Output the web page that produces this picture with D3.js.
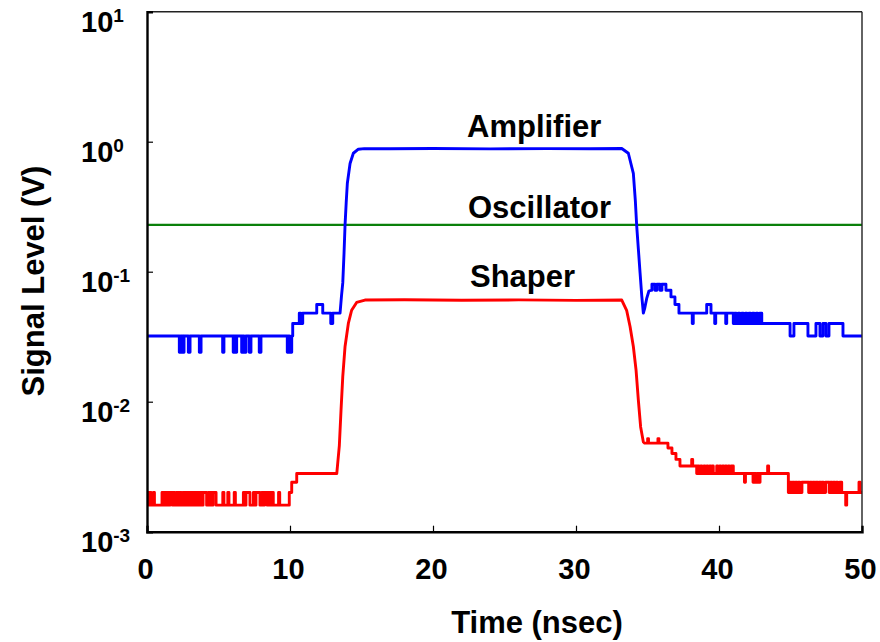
<!DOCTYPE html>
<html><head><meta charset="utf-8">
<script src="https://cdn.jsdelivr.net/npm/d3@7"></script>
<style>
html,body{margin:0;padding:0;background:#fff;}
svg{display:block;font-family:"Liberation Sans",Arial,Helvetica,sans-serif;font-weight:bold;}
</style></head>
<body>
<svg id="chart" width="880" height="642"></svg>
<script>
// ---- data (time in nsec, level in V). Third element 1 = linear segment, otherwise step ----
const xTickValues = [0, 10, 20, 30, 40, 50];
const yTickExponents = [1, 0, -1, -2, -3];
const seriesNames = ["Amplifier", "Oscillator", "Shaper"];

const oscillator = [[0, 0.229, 1], [50, 0.229, 1]];

const amplifier = [
  [0,0.032],[2.26,0.024],[2.35,0.032],[2.4,0.024],[2.47,0.032],[2.52,0.024],[2.59,0.032],
  [2.89,0.024],[3.01,0.032],[3.66,0.024],[3.78,0.032],[5.29,0.024],[5.38,0.032],
  [6.03,0.024],[6.1,0.032],[6.2,0.024],[6.27,0.032],[6.62,0.024],[6.7,0.032],[6.78,0.024],[6.92,0.032],
  [7.15,0.024],[7.27,0.032],[7.85,0.024],[7.97,0.032],[9.81,0.024],[9.9,0.032],[9.95,0.024],[10.12,0.032],
  [10.19,0.040],[10.65,0.048],[10.75,0.040],[10.89,0.048],[11.87,0.056],[12.29,0.048],[12.85,0.040],[12.99,0.048],
  [13.5,0.048,1],[13.6,0.065,1],[13.69,0.082,1],[13.78,0.14,1],[13.85,0.229,1],[13.93,0.34,1],[14.01,0.479,1],
  [14.2,0.68,1],[14.43,0.815,1],[14.78,0.875,1],[15.2,0.885,1],[17,0.882,1],[20,0.887,1],[24,0.88,1],
  [28,0.885,1],[31,0.882,1],[33.2,0.887,1],[33.66,0.815,1],[34.01,0.57,1],[34.15,0.35,1],[34.24,0.229,1],
  [34.36,0.15,1],[34.48,0.098,1],[34.6,0.065,1],[34.71,0.048,1],[34.8,0.052,1],[34.94,0.062,1],[35.1,0.071,1],[35.25,0.072,1],
  [35.31,0.080],[35.52,0.072],[35.66,0.080],[35.87,0.072],[36.01,0.080],[36.29,0.072],[36.64,0.064],[36.92,0.056],[37.2,0.048],
  [38.13,0.040],[38.2,0.048],[39.14,0.056],[39.44,0.048],[39.7,0.040],[39.77,0.048],[40.47,0.040],[40.54,0.048],
  [41.0,0.040],[41.1,0.048],[41.2,0.040],[41.35,0.048],[41.45,0.040],[41.6,0.048],[41.7,0.040],[41.85,0.048],
  [41.95,0.040],[42.1,0.048],[42.2,0.040],[42.35,0.048],[42.45,0.040],[42.6,0.048],[42.7,0.040],[42.85,0.048],[42.99,0.040],
  [44.97,0.032],[45.24,0.040],[46.22,0.032],[46.78,0.040],[47.06,0.032],[47.27,0.040],[47.48,0.032],[47.69,0.040],
  [48.67,0.032],[50,0.032]
];

const shaper = [
  [0,0.002],[0.12,0.0016],[0.2,0.002],[0.28,0.0016],[0.45,0.002],[0.52,0.0016],[1.05,0.002],[1.15,0.0016],
  [1.22,0.002],[1.35,0.0016],[1.42,0.002],[1.55,0.0016],[1.62,0.002],[1.78,0.0016],[1.85,0.002],[1.95,0.0016],
  [2.05,0.002],[2.2,0.0016],[2.28,0.002],[2.4,0.0016],[2.5,0.002],[2.62,0.0016],[2.7,0.002],[2.85,0.0016],
  [2.92,0.002],[3.05,0.0016],[3.12,0.002],[3.25,0.0016],[3.32,0.002],[3.45,0.0016],[3.52,0.002],[3.65,0.0016],
  [3.72,0.002],[3.85,0.0016],[3.92,0.002],[4.17,0.0016],[4.28,0.002],[4.38,0.0016],[4.45,0.002],[4.55,0.0016],
  [4.62,0.002],[4.83,0.0016],[5.3,0.002],[5.38,0.0016],[5.65,0.002],[5.73,0.0016],[6.1,0.002],[6.18,0.0016],
  [6.74,0.002],[6.85,0.0016],[6.92,0.002],[7.2,0.0016],[7.44,0.002],[7.55,0.0016],[7.62,0.002],[7.9,0.0016],
  [8.02,0.002],[8.15,0.0016],[8.22,0.002],[8.4,0.0016],[8.48,0.002],[8.62,0.0016],[8.7,0.002],[8.83,0.0016],
  [9.2,0.002],[9.28,0.0016],[9.95,0.002],[10.12,0.0024],[10.47,0.0028],
  [13.27,0.0028,1],[13.45,0.0046,1],[13.57,0.0087,1],[13.69,0.0156,1],[13.85,0.0266,1],[14.08,0.04,1],
  [14.31,0.0505,1],[14.66,0.058,1],[15.24,0.0605,1],[18,0.0608,1],[22,0.0603,1],[26,0.0607,1],[30,0.0602,1],
  [33.2,0.0605,1],[33.54,0.0505,1],[33.78,0.0379,1],[34.01,0.0266,1],[34.2,0.0175,1],[34.36,0.0103,1],
  [34.52,0.0064,1],[34.71,0.0049,1],[34.8,0.0048,1],
  [35.01,0.0052],[35.07,0.0048],[35.73,0.0052],[35.8,0.0048],[36.43,0.0044],[36.71,0.004],[36.99,0.0036],
  [37.27,0.0032],[38.09,0.0036],[38.16,0.0032],
  [38.44,0.0028],[38.52,0.0032],[38.6,0.0028],[38.72,0.0032],[38.8,0.0028],[38.95,0.0032],[39.02,0.0028],
  [39.15,0.0032],[39.22,0.0028],[39.35,0.0032],[39.42,0.0028],[39.52,0.0032],[39.6,0.0028],[39.84,0.0032],
  [39.92,0.0028],[40.05,0.0032],[40.12,0.0028],[40.25,0.0032],[40.33,0.0028],[40.45,0.0032],[40.52,0.0028],
  [40.65,0.0032],[40.72,0.0028],[40.85,0.0032],[41.0,0.0028],
  [41.78,0.0024],[41.85,0.0028],[42.38,0.0024],[42.45,0.0028],[42.55,0.0024],[42.65,0.0028],[42.8,0.0024],
  [42.87,0.0028],[43.4,0.0032],[43.47,0.0028],
  [44.85,0.002],[44.95,0.0024],[45.05,0.002],[45.15,0.0024],[45.25,0.002],[45.35,0.0024],[45.45,0.002],
  [45.55,0.0024],[45.65,0.002],[45.8,0.0024],[46.27,0.002],[46.37,0.0024],[46.47,0.002],[46.57,0.0024],
  [46.67,0.002],[46.77,0.0024],[46.9,0.002],[47.0,0.0024],[47.1,0.002],[47.2,0.0024],[47.3,0.002],
  [47.45,0.0024],[47.7,0.002],[47.8,0.0024],[47.9,0.002],[48.0,0.0024],[48.1,0.002],[48.2,0.0024],
  [48.3,0.002],[48.45,0.0024],[48.58,0.002],[48.86,0.0016],[48.93,0.002],[49.79,0.0024],[49.87,0.002],[50,0.002]
];

// ---- layout ----
const svg = d3.select("#chart");
const L = 147, R = 862, T = 11.7, B = 531.7;
const x = d3.scaleLinear().domain([0, 50]).range([L, R]);
const y = d3.scaleLog().domain([0.001, 10]).range([B, T]);

svg.append("defs").append("clipPath").attr("id", "clip")
  .append("rect").attr("x", L).attr("y", T).attr("width", R - L).attr("height", B - T);

function expand(arr) {
  const out = [];
  arr.forEach((p, i) => {
    if (i > 0 && !p[2]) out.push([p[0], out[out.length - 1][1]]);
    out.push([p[0], p[1]]);
  });
  return out;
}
const line = d3.line().x(d => x(d[0])).y(d => y(d[1]));

const plot = svg.append("g").attr("clip-path", "url(#clip)");
plot.append("path").datum(expand(oscillator)).attr("d", line)
  .attr("fill", "none").attr("stroke", "#0a800a").attr("stroke-width", 2.4);
plot.append("path").datum(expand(shaper)).attr("d", line)
  .attr("fill", "none").attr("stroke", "#ff0000").attr("stroke-width", 2.9).attr("stroke-linejoin", "round");
plot.append("path").datum(expand(amplifier)).attr("d", line)
  .attr("fill", "none").attr("stroke", "#0000ff").attr("stroke-width", 2.9).attr("stroke-linejoin", "round");

// ---- frame ----
svg.append("line").attr("x1", L).attr("x2", R).attr("y1", T).attr("y2", T).attr("stroke", "#222").attr("stroke-width", 1.4);
svg.append("line").attr("x1", R).attr("x2", R).attr("y1", T).attr("y2", B).attr("stroke", "#222").attr("stroke-width", 1.4);

// ---- axes ----
const yAxis = d3.axisLeft(y).tickValues([1, 0.1, 0.01]).tickSize(-6).tickFormat("");
const gy = svg.append("g").attr("transform", `translate(${L},0)`).call(yAxis);
gy.select(".domain").attr("stroke", "#000").attr("stroke-width", 2.4);
gy.selectAll(".tick line").attr("stroke", "#000").attr("stroke-width", 1.2);

const xAxis = d3.axisBottom(x).tickValues([10, 20, 30, 40]).tickSize(-6).tickFormat("");
const gx = svg.append("g").attr("transform", `translate(0,${B})`).call(xAxis);
gx.select(".domain").attr("stroke", "#000").attr("stroke-width", 2.4);
gx.selectAll(".tick line").attr("stroke", "#000").attr("stroke-width", 1.2);

// y tick labels 10^n
const yl = svg.append("g").selectAll("text").data(yTickExponents).join("text")
  .attr("x", 81).attr("y", d => y(Math.pow(10, d)) + 20)
  .attr("font-size", 29).attr("fill", "#000");
yl.append("tspan").text("10");
yl.append("tspan").attr("font-size", 19).attr("dy", -10).text(d => String(d));

// x tick labels
svg.append("g").selectAll("text").data(xTickValues).join("text")
  .attr("x", d => x(d) - 1.5).attr("y", 579).attr("text-anchor", "middle")
  .attr("font-size", 29).attr("fill", "#000").text(d => d);

// axis titles
svg.append("text").attr("x", 537).attr("y", 633).attr("text-anchor", "middle")
  .attr("font-size", 31).attr("fill", "#000").text("Time (nsec)");
svg.append("text").attr("transform", "translate(44,281) rotate(-90)").attr("text-anchor", "middle")
  .attr("font-size", 31).attr("fill", "#000").text("Signal Level (V)");

// series labels
const labelPos = [[467, 137], [468, 218], [470, 287]];
svg.append("g").selectAll("text").data(seriesNames).join("text")
  .attr("x", (d, i) => labelPos[i][0]).attr("y", (d, i) => labelPos[i][1])
  .attr("font-size", 31).attr("fill", "#000").text(d => d);
</script>
</body></html>
